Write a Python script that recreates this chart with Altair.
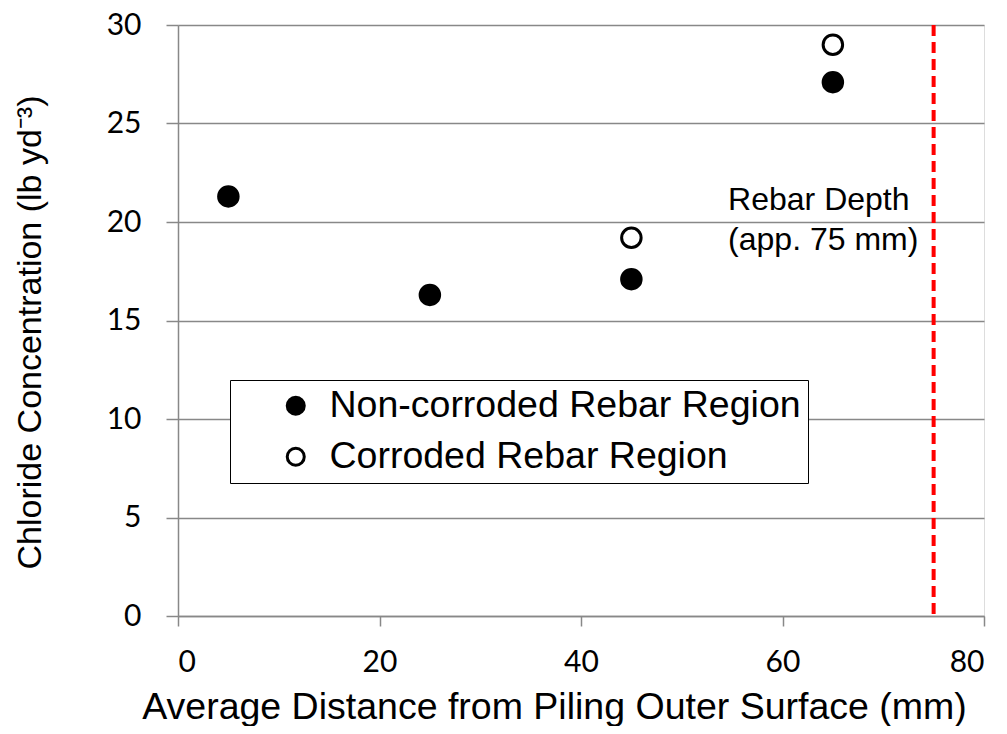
import altair as alt
import pandas as pd

# Data
non_x = [5, 25, 45, 65]
non_y = [21.3, 16.3, 17.1, 27.1]
cor_x = [45, 65]
cor_y = [19.2, 29.0]
series_names = ["Non-corroded Rebar Region", "Corroded Rebar Region"]
rebar_depth = [75]
note_lines = ["Rebar Depth", "(app. 75 mm)"]
note_x = [54.6, 54.6]
note_y = [21.1, 19.1]
x_ticks = [0, 20, 40, 60, 80]
y_ticks = [0, 5, 10, 15, 20, 25, 30]

pts = pd.DataFrame(
    {"x": non_x + cor_x,
     "y": non_y + cor_y,
     "series": [series_names[0]] * len(non_x) + [series_names[1]] * len(cor_x)}
)
rule_df = pd.DataFrame({"x": rebar_depth})
note_df = pd.DataFrame({"x": note_x, "y": note_y, "t": note_lines})

xscale = alt.Scale(domain=[0, 80], nice=False, zero=False)
yscale = alt.Scale(domain=[0, 30], nice=False, zero=False)

sans = "Liberation Sans, Arial, sans-serif"
calib = "Lato, Carlito, sans-serif"

points = alt.Chart(pts).mark_point(
    filled=True, shape="circle", size=380, stroke="black", strokeWidth=3, opacity=1
).encode(
    x=alt.X("x:Q", scale=xscale,
            axis=alt.Axis(values=x_ticks, title="Average Distance from Piling Outer Surface (mm)",
                          grid=False, labelFont=calib, labelFontSize=30, labelPadding=21,
                          titleFont=sans, titleFontSize=37.5, titlePadding=11, titleX=376,
                          tickSize=10, tickColor="#888", domainColor="#888", domainWidth=1.5,
                          tickWidth=1.5,
                          labelColor="black", titleColor="black", titleFontWeight="normal")),
    y=alt.Y("y:Q", scale=yscale,
            axis=alt.Axis(values=y_ticks, title="Chloride Concentration (lb yd⁻³)",
                          grid=True, gridColor="#888", gridWidth=1.5,
                          labelFont=calib, labelFontSize=30, labelPadding=25,
                          titleFont=sans, titleFontSize=34, titlePadding=59, titleY=307,
                          tickSize=12, tickColor="#888", tickWidth=1.5,
                          domainColor="#888", domainWidth=1.5,
                          labelColor="black", titleColor="black", titleFontWeight="normal")),
    fill=alt.Fill("series:N", scale=alt.Scale(domain=series_names, range=["black", "white"]),
                  legend=alt.Legend(title=None, orient="none", legendX=52, legendY=355,
                                    fillColor="white", strokeColor="black",
                                    labelFont=sans, labelFontSize=37.5,
                                    labelExpr="datum.label + '\u2002\u2009'",
                                    labelColor="black", symbolSize=290, symbolStrokeWidth=3,
                                    symbolStrokeColor="black", symbolType="circle",
                                    symbolOffset=40, labelOffset=15, rowPadding=12,
                                    padding=7, labelLimit=700)),
)

rule = alt.Chart(rule_df).mark_rule(color="#ff0000", strokeWidth=4, strokeDash=[11, 6]).encode(
    x=alt.X("x:Q", scale=xscale)
)

note = alt.Chart(note_df).mark_text(
    align="left", baseline="middle", font=sans, fontSize=32, color="black"
).encode(
    x=alt.X("x:Q", scale=xscale),
    y=alt.Y("y:Q", scale=yscale),
    text="t:N",
)

chart = alt.layer(rule, points, note).properties(
    width=806, height=591,
    autosize="none",
    padding={"left": 170, "top": 17, "right": 15, "bottom": 110},
).configure_view(stroke="black", strokeWidth=2).configure(background="white")

chart.save("out.html", embed_options={"renderer": "svg", "actions": False})
